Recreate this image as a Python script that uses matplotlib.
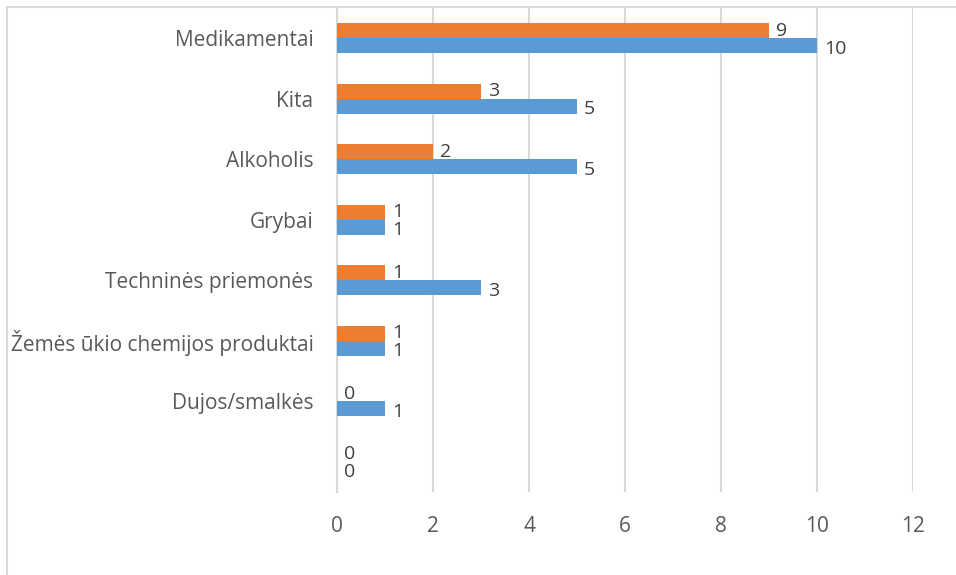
import matplotlib as mpl
mpl.use('Agg')
import matplotlib.pyplot as plt
from matplotlib.lines import Line2D
import numpy as np

# data, top to bottom as in the chart
categories = ['Medikamentai', 'Kita', 'Alkoholis', 'Grybai',
              'Techninės priemonės', 'Žemės ūkio chemijos produktai',
              'Dujos/smalkės', '']
orange_vals = [9, 3, 2, 1, 1, 1, 0, 0]
blue_vals = [10, 5, 5, 1, 3, 1, 1, 0]
xticks = [0, 2, 4, 6, 8, 10, 12]

plt.rcParams['font.family'] = ['Open Sans', 'DejaVu Sans']
txt = '#595959'
grid = '#D9D9D9'

fig = plt.figure(figsize=(9.56, 5.75), dpi=100)
ax = fig.add_axes([337/956, 1 - 492/575, 576/956, 484/575])

y = np.arange(len(categories))
h = 0.25
ax.barh(y - h/2, orange_vals, height=h, color='#ED7D31', zorder=3)
ax.barh(y + h/2, blue_vals, height=h, color='#5B9BD5', zorder=3)

for yi, v in zip(y, orange_vals):
    ax.annotate(str(v), (v, yi - h/2), xytext=(5, 0), textcoords='offset points',
                va='center', ha='left', fontsize=14, color='#404040')
for yi, v in zip(y, blue_vals):
    ax.annotate(str(v), (v, yi + h/2), xytext=(5, -2), textcoords='offset points',
                va='center', ha='left', fontsize=14, color='#404040')

ax.set_xlim(0, 12)
ax.set_ylim(len(categories) - 0.5, -0.5)
ax.set_xticks(xticks)
ax.set_yticks(y)
ax.set_yticklabels(categories)
ax.tick_params(axis='both', length=0, labelsize=15, colors=txt)
ax.tick_params(axis='x', pad=17)
ax.tick_params(axis='y', pad=17)
ax.xaxis.grid(True, color=grid, linewidth=1.5, zorder=0)
for s in ['top', 'right', 'bottom']:
    ax.spines[s].set_visible(False)
ax.spines['left'].set_color(grid)
ax.spines['left'].set_linewidth(1.5)

# chart frame (cropped on right/bottom)
fig.add_artist(Line2D([7/956, 7/956], [0, 1 - 7/575], color=grid, lw=1.5))
fig.add_artist(Line2D([7/956, 1], [1 - 7/575, 1 - 7/575], color=grid, lw=1.5))

fig.savefig('out.png', dpi=100)
